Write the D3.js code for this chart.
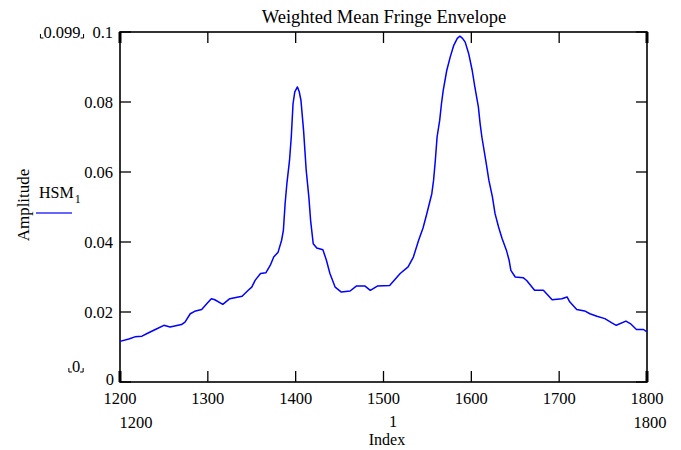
<!DOCTYPE html>
<html><head><meta charset="utf-8">
<script src="https://cdn.jsdelivr.net/npm/d3@7"></script>
<style>body{margin:0;background:#fff}svg{display:block}text{font-family:"Liberation Serif","Times New Roman",serif;fill:#000}</style>
</head><body><svg id="c" width="681" height="450"></svg>
<script>
const indexValues = [1200,1210,1217,1225,1232,1242,1250,1257,1270,1274,1280,1285,1293,1299,1304,1308,1317,1325,1339,1346,1350,1354,1360,1366,1371,1375,1380,1384,1386,1388,1390,1393,1395,1397,1399,1402,1404,1406,1409,1412,1415,1417,1420,1424,1431,1435,1439,1445,1452,1462,1469,1479,1485,1493,1507,1519,1528,1534,1540,1545,1549,1555,1557,1559,1561,1564,1566,1568,1572,1576,1580,1584,1587,1590,1593,1597,1601,1604,1608,1610,1612,1617,1620,1624,1627,1631,1635,1640,1643,1645,1650,1659,1663,1672,1682,1692,1703,1709,1712,1720,1729,1735,1743,1752,1760,1765,1776,1781,1788,1796,1800];
const amplitude = [0.0116,0.0123,0.0129,0.0131,0.0140,0.0152,0.0162,0.0157,0.0164,0.0171,0.0195,0.0202,0.0207,0.0224,0.0238,0.0235,0.0222,0.0238,0.0245,0.0262,0.0271,0.0291,0.0310,0.0312,0.0333,0.0357,0.0371,0.0405,0.0433,0.0510,0.0567,0.0633,0.0700,0.0795,0.0829,0.0843,0.0830,0.0805,0.0719,0.0605,0.0529,0.0462,0.0395,0.0383,0.0378,0.0348,0.0310,0.0271,0.0257,0.0260,0.0274,0.0274,0.0262,0.0274,0.0276,0.0310,0.0329,0.0357,0.0405,0.0440,0.0478,0.0538,0.0576,0.0633,0.0700,0.0748,0.0795,0.0833,0.0890,0.0929,0.0962,0.0982,0.0988,0.0982,0.0971,0.0938,0.0890,0.0843,0.0786,0.0738,0.0700,0.0624,0.0576,0.0529,0.0481,0.0443,0.0410,0.0376,0.0348,0.0319,0.0300,0.0298,0.0290,0.0262,0.0262,0.0235,0.0238,0.0243,0.0229,0.0207,0.0203,0.0195,0.0188,0.0181,0.0169,0.0162,0.0174,0.0167,0.0150,0.0150,0.0143];
const xTicks = [1200,1300,1400,1500,1600,1700,1800];
const yTicks = [0,0.02,0.04,0.06,0.08,0.1];
const yTickLabels = ["0","0.02","0.04","0.06","0.08","0.1"];
const title = "Weighted Mean Fringe Envelope";
const xLabel = "Index", yLabel = "Amplitude";
const seriesName = "HSM", seriesSub = "1";
const yMarkerTop = "0.099", yMarkerBottom = "0";
const xMarkerLeft = "1200", xMarkerMid = "1", xMarkerRight = "1800";

const svg = d3.select("#c");
const L = 120, R = 647, T = 32, B = 382;
const FS = 16.5;
const x = d3.scaleLinear().domain([1200,1800]).range([L,R]);
const y = d3.scaleLinear().domain([0,0.1]).range([B,T]);
const data = indexValues.map((d,i)=>({x:d,y:amplitude[i]}));

// frame
const frame = svg.append("g");
frame.append("rect").attr("x",L).attr("y",T).attr("width",R-L).attr("height",B-T)
  .attr("fill","none").attr("stroke","#000").attr("stroke-width",1.6);
const tl = 11;
xTicks.forEach(t=>{
  frame.append("line").attr("x1",x(t)).attr("x2",x(t)).attr("y1",B).attr("y2",B-tl).attr("stroke","#000").attr("stroke-width",1.3);
  frame.append("line").attr("x1",x(t)).attr("x2",x(t)).attr("y1",T).attr("y2",T+tl).attr("stroke","#000").attr("stroke-width",1.3);
});
yTicks.forEach(t=>{
  frame.append("line").attr("x1",L).attr("x2",L+tl).attr("y1",y(t)).attr("y2",y(t)).attr("stroke","#000").attr("stroke-width",1.3);
  frame.append("line").attr("x1",R).attr("x2",R-tl).attr("y1",y(t)).attr("y2",y(t)).attr("stroke","#000").attr("stroke-width",1.3);
});
[[L,T,L,T+11],[L,B,L,B-11],[R,T,R,T+11],[R,B,R,B-11]].forEach(s=>{
  frame.append("line").attr("x1",s[0]).attr("y1",s[1]).attr("x2",s[2]).attr("y2",s[3]).attr("stroke","#000").attr("stroke-width",3);
});

// tick labels
xTicks.forEach(t=>{
  svg.append("text").attr("x",x(t)).attr("y",B+22).attr("text-anchor","middle").attr("font-size",FS).text(t);
});
yTicks.forEach((t,i)=>{
  if(t===0) return;
  svg.append("text").attr("x",L-7).attr("y",y(t)+6).attr("text-anchor","end").attr("font-size",FS).text(yTickLabels[i]);
});
svg.append("text").attr("x",L-6).attr("y",B+3).attr("text-anchor","end").attr("font-size",FS).text(yTickLabels[0]);

// markers
svg.append("text").attr("x",L+16).attr("y",B+46).attr("text-anchor","middle").attr("font-size",FS).text(xMarkerLeft);
svg.append("text").attr("x",393).attr("y",B+45).attr("text-anchor","middle").attr("font-size",FS).text(xMarkerMid);
svg.append("text").attr("x",R+3).attr("y",B+46).attr("text-anchor","middle").attr("font-size",FS).text(xMarkerRight);
function bracketText(cx, cy, txt){
  const t = svg.append("text").attr("x",cx).attr("y",cy+6).attr("text-anchor","middle").attr("font-size",FS).text(txt);
  const w = t.node().getComputedTextLength();
  const x0 = cx - w/2 - 3, x1 = cx + w/2 + 3, yb = cy + 6;
  svg.append("path").attr("d",`M${x0},${yb-4}V${yb}H${x0+3}`).attr("fill","none").attr("stroke","#000").attr("stroke-width",1);
  svg.append("path").attr("d",`M${x1},${yb-4}V${yb}H${x1-3}`).attr("fill","none").attr("stroke","#000").attr("stroke-width",1);
}
bracketText(62, 32, yMarkerTop);
bracketText(76, 366, yMarkerBottom);

// title and axis labels
svg.append("text").attr("x",384).attr("y",23).attr("text-anchor","middle").attr("font-size",18.5).text(title);
svg.append("text").attr("x",387).attr("y",445).attr("text-anchor","middle").attr("font-size",16).text(xLabel);
svg.append("text").attr("transform","translate(29,205) rotate(-90)").attr("text-anchor","middle").attr("font-size",17).text(yLabel);

// legend
const lt = svg.append("text").attr("x",39).attr("y",198).attr("font-size",16);
lt.append("tspan").text(seriesName);
lt.append("tspan").attr("dy",5).attr("dx",1).attr("font-size",12).text(seriesSub);
svg.append("line").attr("x1",36).attr("x2",72).attr("y1",213).attr("y2",213).attr("stroke","#3333ff").attr("stroke-width",1.5);

// curve
svg.append("path").datum(data)
  .attr("d",d3.line().x(d=>x(d.x)).y(d=>y(d.y)))
  .attr("fill","none").attr("stroke","#0000ff").attr("stroke-width",1.5).attr("stroke-linejoin","round");
</script></body></html>
